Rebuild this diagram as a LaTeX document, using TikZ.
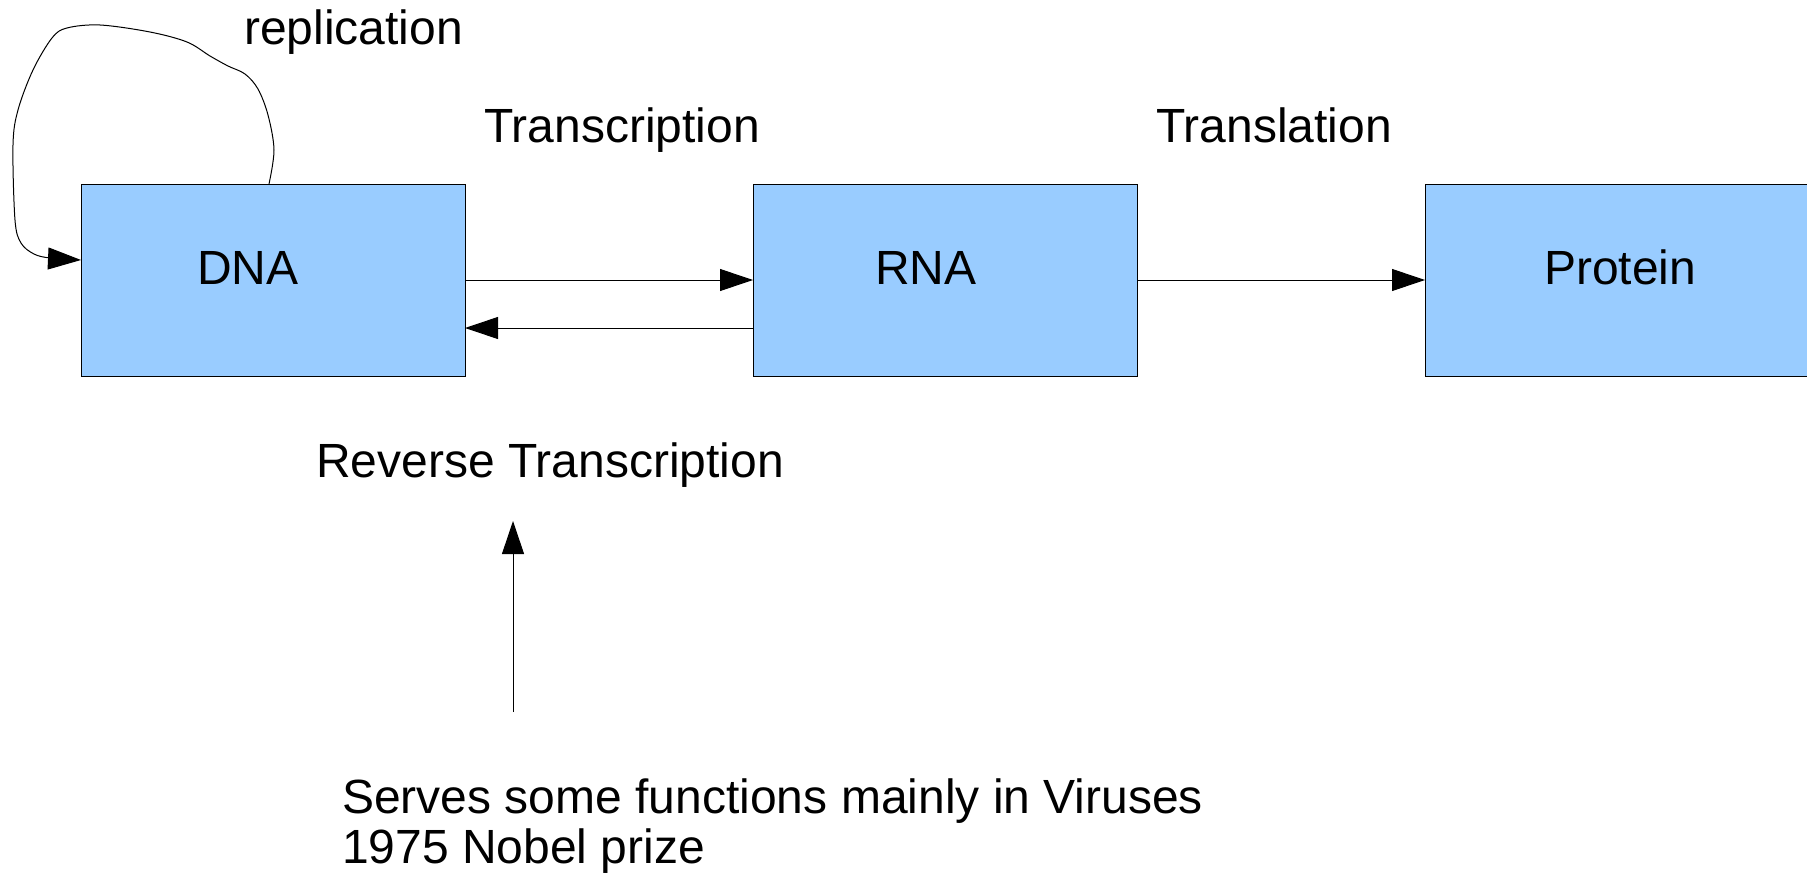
\documentclass[tikz,border=0pt]{standalone}
\usepackage{fontspec}
\setmainfont{Liberation Sans}
\usetikzlibrary{arrows.meta}
\definecolor{boxblue}{HTML}{99CCFF}
\begin{document}
\begin{tikzpicture}[x=1pt,y=-1pt,
  box/.style={draw=black, line width=1pt, fill=boxblue,
    minimum width=384pt, minimum height=192pt, inner sep=0pt, outer sep=0pt},
  lbl/.style={font=\fontsize{48}{50}\selectfont, inner sep=0pt, anchor=base west},
  flow/.style={line width=1pt, -{Triangle[length=33pt,width=22pt]}}]
\useasboundingbox (0,0) rectangle (1807,875);

% the three molecule boxes
\node[box] (dna) at (273,280) {};
\node[box] (rna) at (945,280) {};
\node[box] (protein) at (1617,280) {};

\node[lbl] (dnatext) at (197,284) {DNA};
\node[lbl] (rnatext) at (875,284) {RNA};
\node[lbl] (proteintext) at (1544,284) {Protein};

% process labels
\node[lbl] (replication) at (244,45) {replication};
\node[lbl] (transcription) at (484,142) {Transcription};
\node[lbl] (translation) at (1156,142) {Translation};
\node[lbl] (reverse) at (316,477) {Reverse Transcription};
% two-line note: the base anchor sits on its last line
\node[lbl, align=left] (note) at (342,863) {Serves some functions mainly in Viruses\\1975 Nobel prize};

% information flow
\draw[flow] (dna.east) -- (rna.west);
\draw[flow] ([yshift=-48pt]rna.west) -- ([yshift=-48pt]dna.east);
\draw[flow] (rna.east) -- (protein.west);

% replication loop from the top of DNA back into its left side
\coordinate (repstart) at ([xshift=188pt]dna.north west);
\coordinate (repend) at ([yshift=20pt]dna.west);
\draw[flow] plot[smooth, tension=0.55] coordinates {
  (repstart) (274,150) (268,115) (258,89) (245,74) (228,66) (210,56)
  (187,42) (150,32) (100,25) (67,28) (52,38) (33,70) (18,110) (13,145)
  (15,220) (21,243) (34,254) (50,258) (repend)};

% pointer from the note up to reverse transcription
\coordinate (pointerfoot) at (513,712);
\coordinate (pointerhead) at (513,521);
\draw[flow] (pointerfoot) -- (pointerhead);
\end{tikzpicture}
\end{document}
